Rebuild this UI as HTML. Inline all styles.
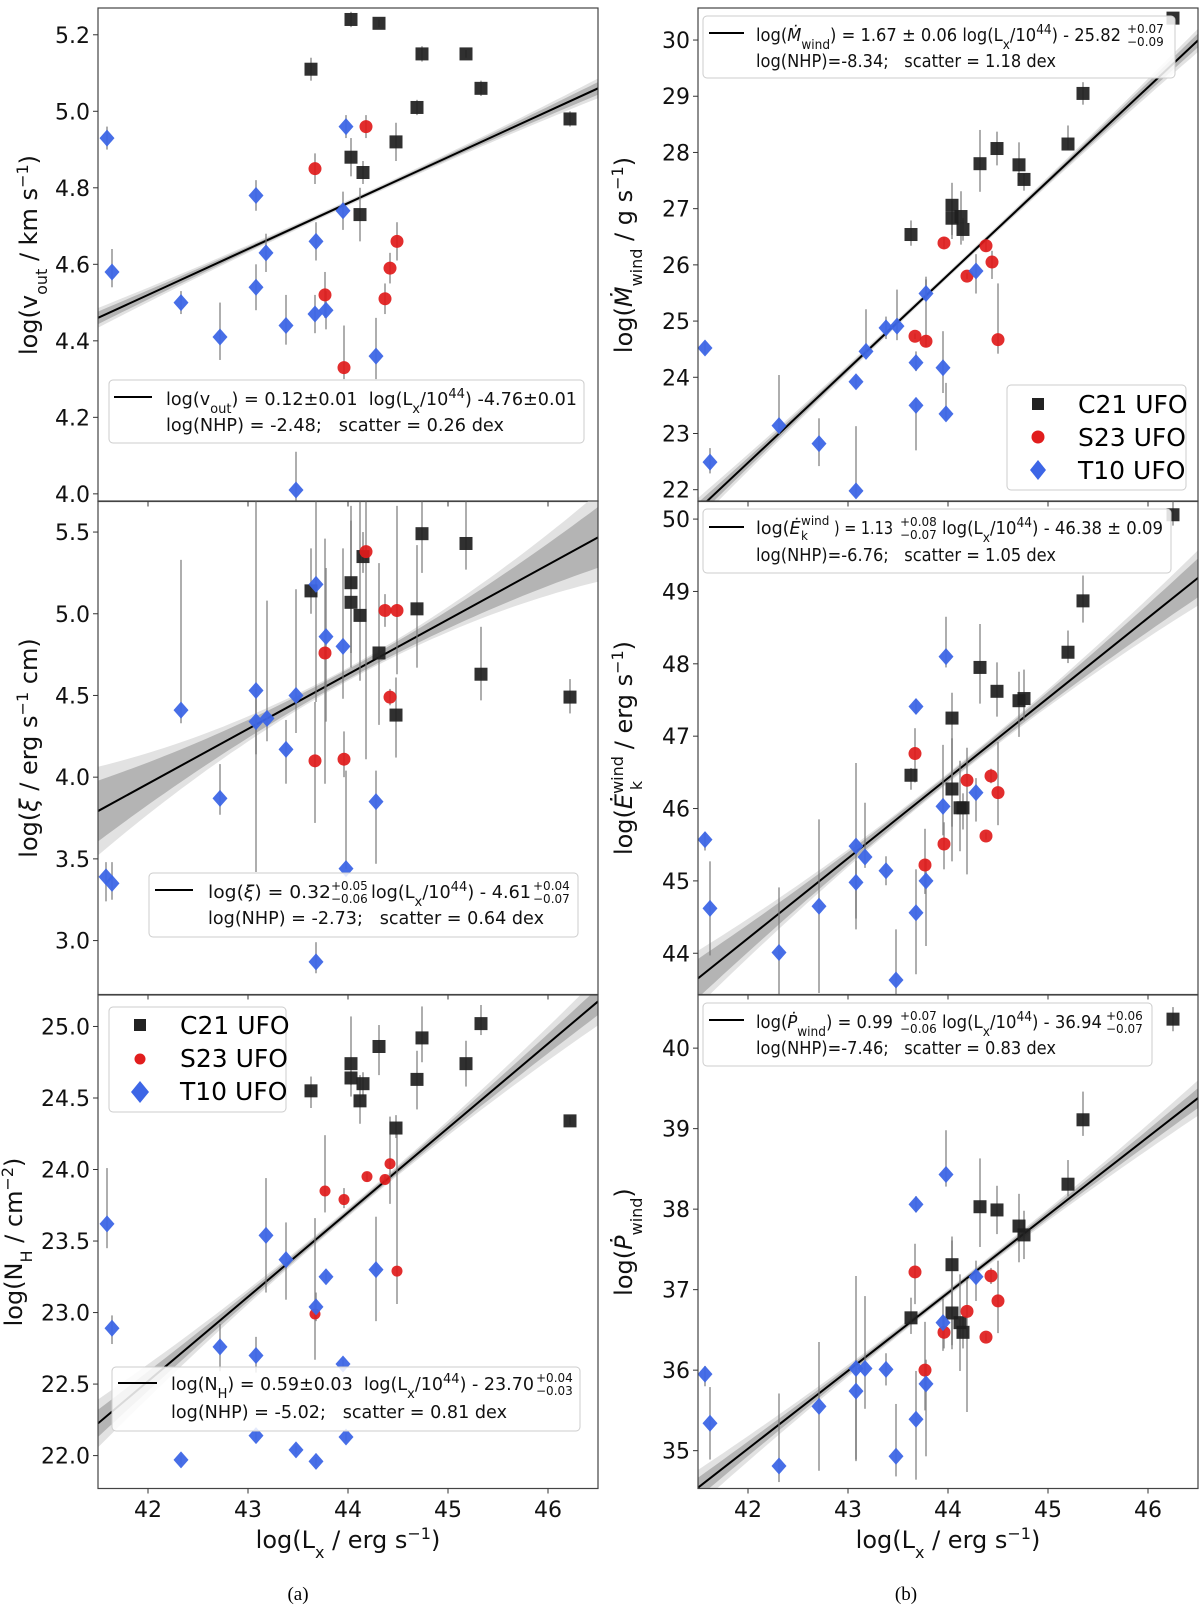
<!DOCTYPE html>
<html><head><meta charset="utf-8"><title>UFO scaling relations</title>
<style>
html,body{margin:0;padding:0;background:#fff;}
svg{display:block;font-family:"DejaVu Sans","Liberation Sans",sans-serif;}
.tick{font-size:22px;fill:#111;}
.axl{font-size:24px;fill:#111;}
.lg{font-size:17.5px;fill:#111;white-space:pre;}
.sc{font-size:12px;fill:#111;}
</style></head>
<body>
<svg id="fig" width="1200" height="1611" viewBox="0 0 1200 1611" xmlns="http://www.w3.org/2000/svg">
<g id="panels"></g>

<text class="axl" x="348" y="1548" text-anchor="middle">log(L<tspan font-size="16" baseline-shift="sub">x</tspan> / erg s<tspan font-size="16" baseline-shift="super">−1</tspan>)</text>
<text class="axl" x="948" y="1548" text-anchor="middle">log(L<tspan font-size="16" baseline-shift="sub">x</tspan> / erg s<tspan font-size="16" baseline-shift="super">−1</tspan>)</text>
<text x="298" y="1600" text-anchor="middle" style="font-family:'Liberation Serif',serif;font-size:19px">(a)</text>
<text x="906" y="1600" text-anchor="middle" style="font-family:'Liberation Serif',serif;font-size:19px">(b)</text>

<text class="axl" transform="translate(37,255) rotate(-90)" text-anchor="middle">log(v<tspan font-size="16" baseline-shift="sub">out</tspan> / km s<tspan font-size="16" baseline-shift="super">−1</tspan>)</text>
<text class="axl" transform="translate(37,748) rotate(-90)" text-anchor="middle">log(<tspan font-style="italic">ξ</tspan> / erg s<tspan font-size="16" baseline-shift="super">−1</tspan> cm)</text>
<text class="axl" transform="translate(22,1242) rotate(-90)" text-anchor="middle">log(N<tspan font-size="16" baseline-shift="sub">H</tspan> / cm<tspan font-size="16" baseline-shift="super">−2</tspan>)</text>
<text class="axl" transform="translate(632,255) rotate(-90)" text-anchor="middle">log(<tspan font-style="italic">Ṁ</tspan><tspan font-size="16" baseline-shift="sub">wind</tspan> / g s<tspan font-size="16" baseline-shift="super">−1</tspan>)</text>
<text class="axl" transform="translate(632,748) rotate(-90)" text-anchor="middle">log(<tspan font-style="italic">Ė</tspan><tspan font-size="16" baseline-shift="super">wind</tspan><tspan font-size="16" dx="-34" baseline-shift="sub">k</tspan><tspan dx="24"> / erg s</tspan><tspan font-size="16" baseline-shift="super">−1</tspan>)</text>
<text class="axl" transform="translate(632,1242) rotate(-90)" text-anchor="middle">log(<tspan font-style="italic">Ṗ</tspan><tspan font-size="16" baseline-shift="sub">wind</tspan>)</text>

<g>
<rect x="109" y="380" width="475" height="63" rx="4" fill="#fff" fill-opacity="0.85" stroke="#ccc"/>
<line x1="114" y1="397" x2="152" y2="397" stroke="#000" stroke-width="2"/>
<text class="lg" x="166" y="405" textLength="411" lengthAdjust="spacingAndGlyphs">log(v<tspan font-size="13" baseline-shift="sub">out</tspan>) = 0.12±0.01  log(L<tspan font-size="13" baseline-shift="sub">x</tspan>/10<tspan font-size="13" baseline-shift="super">44</tspan>) -4.76±0.01</text>
<text class="lg" x="166" y="431" textLength="338" lengthAdjust="spacingAndGlyphs">log(NHP) = -2.48;   scatter = 0.26 dex</text></g>

<g>
<rect x="149" y="873" width="429" height="64" rx="4" fill="#fff" fill-opacity="0.85" stroke="#ccc"/>
<line x1="155" y1="890" x2="193" y2="890" stroke="#000" stroke-width="2"/>
<text class="lg" x="208" y="898" textLength="123" lengthAdjust="spacingAndGlyphs">log(<tspan font-style="italic">ξ</tspan>) = 0.32</text>
<text class="sc" x="331" y="890">+0.05</text><text class="sc" x="331" y="903">−0.06</text>
<text class="lg" x="371" y="898" textLength="160" lengthAdjust="spacingAndGlyphs">log(L<tspan font-size="13" baseline-shift="sub">x</tspan>/10<tspan font-size="13" baseline-shift="super">44</tspan>) - 4.61</text>
<text class="sc" x="533" y="890">+0.04</text><text class="sc" x="533" y="903">−0.07</text>
<text class="lg" x="208" y="924" textLength="336" lengthAdjust="spacingAndGlyphs">log(NHP) = -2.73;   scatter = 0.64 dex</text></g>

<g>
<rect x="112" y="1367" width="468" height="64" rx="4" fill="#fff" fill-opacity="0.85" stroke="#ccc"/>
<line x1="118" y1="1383" x2="157" y2="1383" stroke="#000" stroke-width="2"/>
<text class="lg" x="171" y="1390" textLength="363" lengthAdjust="spacingAndGlyphs">log(N<tspan font-size="13" baseline-shift="sub">H</tspan>) = 0.59±0.03  log(L<tspan font-size="13" baseline-shift="sub">x</tspan>/10<tspan font-size="13" baseline-shift="super">44</tspan>) - 23.70</text>
<text class="sc" x="536" y="1382">+0.04</text><text class="sc" x="536" y="1395">−0.03</text>
<text class="lg" x="171" y="1418" textLength="336" lengthAdjust="spacingAndGlyphs">log(NHP) = -5.02;   scatter = 0.81 dex</text></g>

<g>
<rect x="703" y="16" width="472" height="62" rx="4" fill="#fff" fill-opacity="0.85" stroke="#ccc"/>
<line x1="709" y1="33" x2="744" y2="33" stroke="#000" stroke-width="2"/>
<text class="lg" x="756" y="41" textLength="365" lengthAdjust="spacingAndGlyphs">log(<tspan font-style="italic">Ṁ</tspan><tspan font-size="13" baseline-shift="sub">wind</tspan>) = 1.67 ± 0.06 log(L<tspan font-size="13" baseline-shift="sub">x</tspan>/10<tspan font-size="13" baseline-shift="super">44</tspan>) - 25.82</text>
<text class="sc" x="1127" y="33">+0.07</text><text class="sc" x="1127" y="46">−0.09</text>
<text class="lg" x="756" y="67" textLength="300" lengthAdjust="spacingAndGlyphs">log(NHP)=-8.34;   scatter = 1.18 dex</text></g>

<g>
<rect x="703" y="509" width="468" height="64" rx="4" fill="#fff" fill-opacity="0.85" stroke="#ccc"/>
<line x1="709" y1="527" x2="744" y2="527" stroke="#000" stroke-width="2"/>
<text class="lg" x="756" y="534">log(<tspan font-style="italic">Ė</tspan></text>
<text class="sc" x="801" y="525">wind</text><text class="sc" x="801" y="540">k</text>
<text class="lg" x="834" y="534" textLength="59" lengthAdjust="spacingAndGlyphs">) = 1.13</text>
<text class="sc" x="900" y="526">+0.08</text><text class="sc" x="900" y="539">−0.07</text>
<text class="lg" x="942" y="534" textLength="221" lengthAdjust="spacingAndGlyphs">log(L<tspan font-size="13" baseline-shift="sub">x</tspan>/10<tspan font-size="13" baseline-shift="super">44</tspan>) - 46.38 ± 0.09</text>
<text class="lg" x="756" y="561" textLength="300" lengthAdjust="spacingAndGlyphs">log(NHP)=-6.76;   scatter = 1.05 dex</text></g>

<g>
<rect x="703" y="1003" width="449" height="63" rx="4" fill="#fff" fill-opacity="0.85" stroke="#ccc"/>
<line x1="709" y1="1020" x2="744" y2="1020" stroke="#000" stroke-width="2"/>
<text class="lg" x="756" y="1028" textLength="137" lengthAdjust="spacingAndGlyphs">log(<tspan font-style="italic">Ṗ</tspan><tspan font-size="13" baseline-shift="sub">wind</tspan>) = 0.99</text>
<text class="sc" x="900" y="1020">+0.07</text><text class="sc" x="900" y="1033">−0.06</text>
<text class="lg" x="942" y="1028" textLength="160" lengthAdjust="spacingAndGlyphs">log(L<tspan font-size="13" baseline-shift="sub">x</tspan>/10<tspan font-size="13" baseline-shift="super">44</tspan>) - 36.94</text>
<text class="sc" x="1106" y="1020">+0.06</text><text class="sc" x="1106" y="1033">−0.07</text>
<text class="lg" x="756" y="1054" textLength="300" lengthAdjust="spacingAndGlyphs">log(NHP)=-7.46;   scatter = 0.83 dex</text></g>

<g>
<rect x="109" y="1007" width="177" height="105" rx="4" fill="#fff" fill-opacity="0.85" stroke="#ccc"/>
<rect x="134" y="1019" width="12" height="12" fill="#222"/>
<circle cx="140" cy="1059" r="5.5" fill="#e11d1d"/>
<path d="M140 1081 L149 1092 L140 1103 L131 1092 Z" fill="#3d66e6"/>
<text x="180" y="1034" style="font-size:25px">C21 UFO</text>
<text x="180" y="1067" style="font-size:25px">S23 UFO</text>
<text x="180" y="1100" style="font-size:25px">T10 UFO</text>
</g>
<g>
<rect x="1007" y="385" width="179" height="105" rx="4" fill="#fff" fill-opacity="0.85" stroke="#ccc"/>
<rect x="1032" y="398" width="12" height="12" fill="#222"/>
<circle cx="1038" cy="437" r="6.5" fill="#e11d1d"/>
<path d="M1038 460 L1046 470 L1038 480 L1030 470 Z" fill="#3d66e6"/>
<text x="1078" y="413" style="font-size:25px">C21 UFO</text>
<text x="1078" y="446" style="font-size:25px">S23 UFO</text>
<text x="1078" y="479" style="font-size:25px">T10 UFO</text>
</g>
</svg>

<script>
// ---------- DATA: each point = [logLx, value, errLow, errHigh] ----------
const xTicks = [42, 43, 44, 45, 46];

const voutTicks = [4.0, 4.2, 4.4, 4.6, 4.8, 5.0, 5.2];
const voutC21 = [[44.03,5.24,.02,.02],[44.31,5.23,.01,.01],[44.74,5.15,.02,.02],[45.18,5.15,.01,.01],[43.63,5.11,.03,.03],[45.33,5.06,.02,.02],[44.69,5.01,.02,.02],[46.22,4.98,.02,.02],[44.48,4.92,.05,.05],[44.03,4.88,.05,.05],[44.15,4.84,.03,.03],[44.12,4.73,.07,.07]];
const voutS23 = [[44.18,4.96,.03,.03],[43.67,4.85,.04,.04],[44.49,4.66,.05,.05],[44.42,4.59,.04,.04],[43.77,4.52,.06,.06],[44.37,4.51,.04,.04],[43.96,4.33,.03,.11]];
const voutT10 = [[41.59,4.93,.03,.03],[43.98,4.96,.03,.03],[43.08,4.78,.04,.04],[43.95,4.74,.05,.05],[43.68,4.66,.05,.05],[43.18,4.63,.05,.05],[41.64,4.58,.04,.06],[43.08,4.54,.06,.06],[42.33,4.50,.03,.03],[43.78,4.48,.05,.05],[43.67,4.47,.05,.05],[43.38,4.44,.05,.08],[42.72,4.41,.06,.09],[44.28,4.36,.06,.1],[43.48,4.01,.03,.1]];
const voutFit = [4.76, 0.12];

const xiTicks = [3.0, 3.5, 4.0, 4.5, 5.0, 5.5];
const xiC21 = [[44.74,5.49,.24,.31],[45.18,5.43,.16,.37],[44.15,5.35,.1,.15],[44.03,5.19,.43,.47],[43.63,5.14,.14,.26],[44.03,5.07,.4,.5],[44.12,4.99,.4,.7],[44.69,5.03,.36,.39],[44.31,4.76,.44,.55],[45.33,4.63,.16,.29],[46.22,4.49,.1,.11],[44.48,4.38,.26,.23]];
const xiS23 = [[44.18,5.38,1.27,.31],[44.37,5.02,.1,.1],[44.49,5.02,.39,.64],[43.77,4.76,.8,.7],[44.42,4.49,.05,.05],[43.67,4.10,.38,.36],[43.96,4.11,.11,.17]];
const xiT10 = [[43.68,5.18,.72,.51],[43.78,4.86,.52,.42],[43.95,4.80,.32,.6],[43.08,4.53,1.11,1.16],[43.48,4.50,.23,.65],[42.33,4.41,.08,.92],[43.08,4.34,.2,.2],[43.19,4.36,.14,.72],[43.38,4.17,.21,.18],[42.72,3.87,.1,.21],[44.28,3.85,.38,.19],[43.98,3.44,0,.6],[41.58,3.39,.15,.09],[41.64,3.35,.1,.13],[43.68,2.87,.07,.12]];
const xiFit = [4.63, 0.335];

const nhTicks = [22.0, 22.5, 23.0, 23.5, 24.0, 24.5, 25.0];
const nhC21 = [[45.33,25.02,.08,.13],[44.74,24.92,.17,.22],[44.31,24.86,.2,.15],[45.18,24.74,.16,.16],[44.03,24.74,.23,.33],[44.03,24.64,.05,.05],[44.69,24.63,.21,.2],[44.15,24.60,.09,.08],[43.63,24.55,.12,.1],[44.12,24.48,.16,.18],[46.22,24.34,.03,.03],[44.48,24.29,.07,.09]];
const nhS23 = [[44.42,24.04,.28,.33],[44.19,23.95,.03,.03],[44.37,23.93,.03,.03],[43.77,23.85,.15,.39],[43.96,23.79,.06,.08],[44.49,23.29,.23,.96],[43.67,22.99,.32,.67]];
const nhT10 = [[41.59,23.62,.17,.39],[43.18,23.54,.4,.4],[43.38,23.37,.28,.26],[44.28,23.30,.36,.37],[43.78,23.25,.03,.03],[43.68,23.04,.1,.1],[41.64,22.89,.11,.09],[42.72,22.76,.17,.16],[43.08,22.70,.12,.13],[43.95,22.64,.03,.03],[43.08,22.14,.03,.03],[43.98,22.13,.03,.03],[43.48,22.04,.03,.03],[42.33,21.97,.03,.03],[43.68,21.96,.03,.03]];
const nhFit = [23.70, 0.59];

const mdotTicks = [22, 23, 24, 25, 26, 27, 28, 29, 30];
const mdotC21 = [[46.25,30.39,.05,.05],[45.35,29.05,.2,.2],[45.2,28.15,.1,.33],[44.49,28.07,.3,.3],[44.32,27.80,.5,.6],[44.71,27.78,.3,.4],[44.76,27.52,.2,.1],[44.04,27.06,.6,.4],[44.04,26.83,.3,.3],[44.13,26.86,.5,.45],[44.15,26.63,.2,.2],[43.63,26.54,.2,.25]];
const mdotS23 = [[43.96,26.39,.1,.1],[44.38,26.34,.1,.1],[44.44,26.05,.3,.2],[44.19,25.80,.05,.05],[43.67,24.73,.05,.05],[43.78,24.64,.1,1.1],[44.5,24.67,.25,1.0]];
const mdotT10 = [[44.28,25.89,.4,.3],[43.78,25.49,.1,.3],[43.49,24.91,.25,.65],[43.38,24.88,.2,.2],[43.18,24.46,.1,.75],[41.57,24.52,.1,.1],[43.68,24.26,.15,.2],[43.95,24.17,.45,.65],[43.08,23.92,.1,.1],[43.68,23.5,.8,.1],[43.98,23.35,.1,.55],[42.31,23.14,.15,.9],[42.71,22.82,.4,.45],[41.62,22.49,.2,.25],[43.08,21.98,.1,1.15]];
const mdotFit = [25.82, 1.67];

const ekinTicks = [44, 45, 46, 47, 48, 49, 50];
const ekinC21 = [[46.25,50.06,.15,.2],[45.35,48.87,.3,.35],[45.2,48.16,.15,.3],[44.32,47.95,.5,.6],[44.49,47.62,.35,.4],[44.71,47.49,.5,.4],[44.76,47.52,.3,.4],[44.04,47.25,1.5,.35],[43.63,46.46,.2,.1],[44.04,46.27,1.0,.7],[44.12,46.01,.6,.65],[44.15,46.01,.3,.2]];
const ekinS23 = [[43.67,46.76,.4,.35],[44.19,46.39,1.3,.45],[44.43,46.45,.1,.1],[44.5,46.22,.45,.7],[43.96,45.51,.35,.3],[44.38,45.62,.05,.05],[43.77,45.22,.4,.5]];
const ekinT10 = [[43.98,48.1,.15,.55],[43.68,47.41,.1,.1],[44.28,46.22,.4,.2],[43.95,46.03,.4,.85],[41.57,45.57,.15,.1],[43.08,45.48,1.15,1.15],[43.17,45.33,.15,.75],[43.38,45.14,.2,.2],[43.08,44.98,.5,.3],[43.78,45.0,.9,.3],[42.71,44.65,1.2,1.2],[41.62,44.62,.65,.65],[43.68,44.56,.85,.6],[42.31,44.01,.6,.9],[43.48,43.63,.3,.7]];
const ekinFit = [46.42, 1.107];

const pdotTicks = [35, 36, 37, 38, 39, 40];
const pdotC21 = [[46.25,40.36,.15,.15],[45.35,39.11,.2,.35],[45.2,38.31,.15,.3],[44.32,38.03,.5,.6],[44.49,37.99,.3,.3],[44.71,37.79,.45,.4],[44.76,37.68,.3,.3],[44.04,37.31,1.0,.35],[43.63,36.65,.2,.25],[44.04,36.71,.45,.9],[44.12,36.59,.6,.6],[44.15,36.47,.2,.2]];
const pdotS23 = [[43.67,37.22,.4,.35],[44.43,37.17,.1,.1],[44.5,36.86,.4,.5],[44.19,36.73,1.25,.4],[43.96,36.47,.2,.2],[44.38,36.41,.05,.05],[43.77,36.0,.5,.6]];
const pdotT10 = [[43.98,38.43,.15,.55],[43.68,38.06,.1,.1],[44.28,37.16,.3,.2],[43.95,36.59,.35,.3],[41.57,35.95,.15,.1],[43.08,36.02,1.15,1.15],[43.17,36.02,.5,.9],[43.38,36.01,.2,.2],[43.08,35.74,.85,.3],[43.78,35.83,.9,.3],[42.71,35.55,.8,.8],[41.62,35.34,.45,.45],[43.68,35.39,.75,.6],[43.48,34.93,.25,.65],[42.31,34.81,.2,.9]];
const pdotFit = [36.96, 0.968];

// ---------- RENDER ----------
const NS = "http://www.w3.org/2000/svg";
const root = document.getElementById('panels');
function el(tag, attrs, parent){
  const e = document.createElementNS(NS, tag);
  for (const k in attrs) e.setAttribute(k, attrs[k]);
  parent.appendChild(e);
  return e;
}
const panels = [
  {id:'vout', x0:98, y0:8, ylim:[3.98,5.27], ticks:voutTicks, dec:1, c21:voutC21, s23:voutS23, t10:voutT10, fit:voutFit, dark:[.004,.002], light:[.007,.003], r:6.5},
  {id:'xi', x0:98, y0:501, ylim:[2.67,5.69], ticks:xiTicks, dec:1, c21:xiC21, s23:xiS23, t10:xiT10, fit:xiFit, dark:[.03,.025], light:[.04,.037], r:6.5},
  {id:'nh', x0:98, y0:995, ylim:[21.77,25.22], ticks:nhTicks, dec:1, c21:nhC21, s23:nhS23, t10:nhT10, fit:nhFit, dark:[.02,.012], light:[.03,.022], r:5.5},
  {id:'mdot', x0:698, y0:8, ylim:[21.79,30.57], ticks:mdotTicks, dec:0, c21:mdotC21, s23:mdotS23, t10:mdotT10, fit:mdotFit, dark:[.03,.015], light:[.05,.025], r:6.5},
  {id:'ekin', x0:698, y0:501, ylim:[43.43,50.25], ticks:ekinTicks, dec:0, c21:ekinC21, s23:ekinS23, t10:ekinT10, fit:ekinFit, dark:[.05,.035], light:[.07,.05], r:6.5},
  {id:'pdot', x0:698, y0:995, ylim:[34.53,40.66], ticks:pdotTicks, dec:0, c21:pdotC21, s23:pdotS23, t10:pdotT10, fit:pdotFit, dark:[.03,.015], light:[.045,.028], r:6.5}
];
const W = 500, H = 493.5, XMIN = 41.5, XMAX = 46.5;

panels.forEach(function(p){
  const sx = function(v){ return p.x0 + (v - XMIN) / (XMAX - XMIN) * W; };
  const sy = function(v){ return p.y0 + (p.ylim[1] - v) / (p.ylim[1] - p.ylim[0]) * H; };
  const g = el('g', {}, root);
  
  
  const cp = el('clipPath', {id:'clip-' + p.id}, g);
  el('rect', {x:p.x0, y:p.y0, width:W, height:H}, cp);
  const plot = el('g', {'clip-path':'url(#clip-' + p.id + ')'}, g);
  
  

  const fy = function(x){ return p.fit[0] + p.fit[1] * (x - 44); };
  [['light','#e2e2e2',p.light],['dark','#b4b4b4',p.dark]].forEach(function(b){
    const up = [], dn = [];
    for (let i = 0; i <= 60; i++){
      const x = XMIN + (XMAX - XMIN) * i / 60;
      const w = b[2][0] + b[2][1] * (x - 44) * (x - 44);
      up.push(sx(x).toFixed(1) + ',' + sy(fy(x) + w).toFixed(1));
      dn.unshift(sx(x).toFixed(1) + ',' + sy(fy(x) - w).toFixed(1));
    }
    const poly = el('polygon', {points: up.concat(dn).join(' '), fill: b[1]}, plot);
    
    
  });
  const fl = el('line', {x1:sx(XMIN), y1:sy(fy(XMIN)), x2:sx(XMAX), y2:sy(fy(XMAX)), stroke:'#000', 'stroke-width':2}, plot);
  
  

  const series = [['c21', p.c21], ['s23', p.s23], ['t10', p.t10]];
  series.forEach(function(s){
    s[1].forEach(function(d){
      const eb = el('line', {x1:sx(d[0]), x2:sx(d[0]), y1:sy(d[1] - d[2]), y2:sy(d[1] + d[3]), stroke:'#777', 'stroke-opacity':0.75, 'stroke-width':1.6}, plot);
      
      
    });
  });
  series.forEach(function(s){
    s[1].forEach(function(d){
      const cx = sx(d[0]), cy = sy(d[1]);
      let m;
      if (s[0] === 'c21') m = el('rect', {x:cx - 6.5, y:cy - 6.5, width:13, height:13, fill:'#1e1e1e', 'fill-opacity':0.92}, plot);
      else if (s[0] === 's23') m = el('circle', {cx:cx, cy:cy, r:p.r, fill:'#e01b1b', 'fill-opacity':0.92}, plot);
      else m = el('path', {d:'M' + cx + ' ' + (cy - 8.5) + ' L' + (cx + 7.5) + ' ' + cy + ' L' + cx + ' ' + (cy + 8.5) + ' L' + (cx - 7.5) + ' ' + cy + ' Z', fill:'#3d66e6', 'fill-opacity':0.95}, plot);
      
      
    });
  });

  const fr = el('rect', {x:p.x0, y:p.y0, width:W, height:H, fill:'none', stroke:'#444', 'stroke-width':1.2}, g);
  
  

  p.ticks.forEach(function(t){
    const y = sy(t);
    const tl = el('line', {x1:p.x0 - 5, x2:p.x0, y1:y, y2:y, stroke:'#333', 'stroke-width':1}, g);
    
    
    const tx = el('text', {x:p.x0 - 8, y:y + 8, 'text-anchor':'end', 'class':'tick'}, g);
    tx.textContent = t.toFixed(p.dec);
    
    
  });
  const bottom = p.y0 + H;
  xTicks.forEach(function(t){
    const x = sx(t);
    const tl = el('line', {x1:x, x2:x, y1:bottom, y2:bottom + 5, stroke:'#333', 'stroke-width':1}, g);
    
    
    if (p.y0 > 900){
      const tx = el('text', {x:x, y:1517, 'text-anchor':'middle', 'class':'tick'}, g);
      tx.textContent = String(t);
      
      
    }
  });
});
</script>
</body></html>
